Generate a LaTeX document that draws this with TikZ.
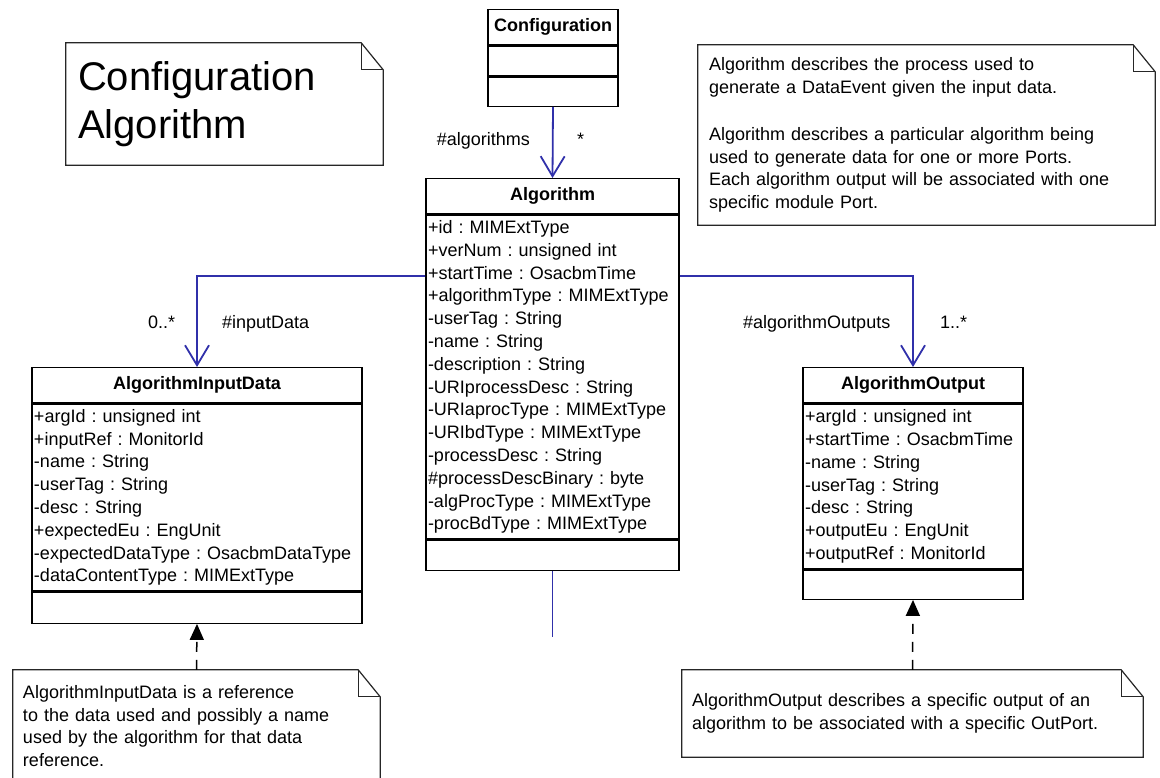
\documentclass[tikz,border=0pt]{standalone}
\usepackage{fontspec}
\setmainfont{Liberation Sans}
\usetikzlibrary{positioning,arrows.meta}
\frenchspacing

\definecolor{assocblue}{RGB}{48,48,170}

\tikzset{
	classhead/.style={draw, line width=1.3pt, minimum width=#1, minimum height=35pt, inner sep=0pt, font=\fontsize{18}{22.8}\selectfont\bfseries},
	classattr/.style={draw, line width=1.3pt, text width=#1, inner xsep=2pt, inner ysep=0pt, align=left},
	classops/.style={draw, line width=1.3pt, minimum width=#1, minimum height=30pt, inner sep=0pt},
	notebox/.style={inner ysep=0pt, align=left, font=\fontsize{18}{22.5}\selectfont},
	notebdr/.style={draw=black!85, line width=1.2pt},
	assoc/.style={draw=assocblue, line width=1.8pt, -{Straight Barb[length=20pt, width=24pt]}},
	assocline/.style={draw=assocblue, line width=1.8pt},
	noteline/.style={line width=1.5pt, dash pattern=on 10pt off 8pt, -{Triangle[length=16pt, width=14pt]}},
	rolelabel/.style={inner sep=0pt}
}

% folded note outline round a node
\newcommand{\notefold}[1]{%
	\draw[notebdr] (#1.south west) -- (#1.north west) -- ([xshift=-22pt]#1.north east) -- ([yshift=-27pt]#1.north east) -- (#1.south east) -- cycle;
	\draw[notebdr] ([xshift=-22pt]#1.north east) |- ([yshift=-27pt]#1.north east);}

\begin{document}
\begin{tikzpicture}[x=1pt, y=-1pt, font=\fontsize{18}{22.8}\selectfont]
	\useasboundingbox (0,0) rectangle (1160,778);
	\clip (0,0) rectangle (1160,778);
	
	% notes
	\node[notebox, font=\fontsize{40}{48}\selectfont, inner xsep=12pt, text width=293pt, minimum height=122pt] (titlenote) at (224.5,104) {Configuration\\Algorithm};
	\notefold{titlenote}
	
	\node[notebox, inner xsep=11pt, text width=435pt, minimum height=180pt] (algnote) at (926.5,135) {Algorithm describes the process used to\\generate a DataEvent given the input data.\\[25pt]Algorithm describes a particular algorithm being\\used to generate data for one or more Ports.\\Each algorithm output will be associated with one\\specific module Port.};
	\notefold{algnote}
	
	\node[notebox, inner xsep=10pt, text width=347pt, minimum height=112pt] (innote) at (196.5,726) {AlgorithmInputData is a reference\\to the data used and possibly a name\\used by the algorithm for that data\\reference.};
	\notefold{innote}
	
	\node[notebox, inner xsep=10pt, text width=441pt, minimum height=87pt] (outnote) at (912.5,713.5) {AlgorithmOutput describes a specific output of an\\algorithm to be associated with a specific OutPort.};
	\notefold{outnote}
	
	% classes
	\node[classhead=130pt, anchor=north] (confhead) at (553,9) {Configuration};
	\node[classops=130pt, below=0pt of confhead] (confattr) {};
	\node[classops=130pt, minimum height=29pt, below=0pt of confattr] (confops) {};
	
	\node[classhead=253pt, anchor=north] (alghead) at (552.5,178) {Algorithm};
	\node[classattr=249pt, minimum height=324pt, below=0pt of alghead] (algattr) {+id : MIMExtType\\+verNum : unsigned int\\+startTime : OsacbmTime\\+algorithmType : MIMExtType\\-userTag : String\\-name : String\\-description : String\\-URIprocessDesc : String\\-URIaprocType : MIMExtType\\-URIbdType : MIMExtType\\-processDesc : String\\\#processDescBinary : byte\\-algProcType : MIMExtType\\-procBdType : MIMExtType};
	\node[classops=253pt, below=0pt of algattr] (algops) {};
	
	\node[classhead=330pt, anchor=north] (inhead) at (197,367) {AlgorithmInputData};
	\node[classattr=326pt, minimum height=187pt, below=0pt of inhead] (inattr) {+argId : unsigned int\\+inputRef : MonitorId\\-name : String\\-userTag : String\\-desc : String\\+expectedEu : EngUnit\\-expectedDataType : OsacbmDataType\\-dataContentType : MIMExtType};
	\node[classops=330pt, minimum height=31pt, below=0pt of inattr] (inops) {};
	
	\node[classhead=220pt, anchor=north] (outhead) at (913,367) {AlgorithmOutput};
	\node[classattr=216pt, minimum height=165pt, below=0pt of outhead] (outattr) {+argId : unsigned int\\+startTime : OsacbmTime\\-name : String\\-userTag : String\\-desc : String\\+outputEu : EngUnit\\+outputRef : MonitorId};
	\node[classops=220pt, minimum height=29pt, below=0pt of outattr] (outops) {};
	
	% associations
	\draw[assoc] (confops.south) -- (alghead.north);
	\draw[assoc] ([yshift=-62pt]algattr.north west) -| (inhead.north);
	\draw[assoc] ([yshift=-62pt]algattr.north east) -| (outhead.north);
	\coordinate (algstub) at (552.5,637);
	\draw[assocline] (algops.south) -- (algstub);
	
	\node[rolelabel, anchor=base east] (algrole) at (530,146) {\#algorithms};
	\node[rolelabel, anchor=base west] (algmult) at (577,146) {*};
	\node[rolelabel, anchor=base west] (inmult) at (148,328) {0..*};
	\node[rolelabel, anchor=base west] (inrole) at (222,328) {\#inputData};
	\node[rolelabel, anchor=base west] (outrole) at (743,328) {\#algorithmOutputs};
	\node[rolelabel, anchor=base west] (outmult) at (940,328) {1..*};
	
	% note links
	\draw[noteline] (innote.north) -- (inops.south);
	\draw[noteline] (outnote.north) -- (outops.south);
\end{tikzpicture}
\end{document}
